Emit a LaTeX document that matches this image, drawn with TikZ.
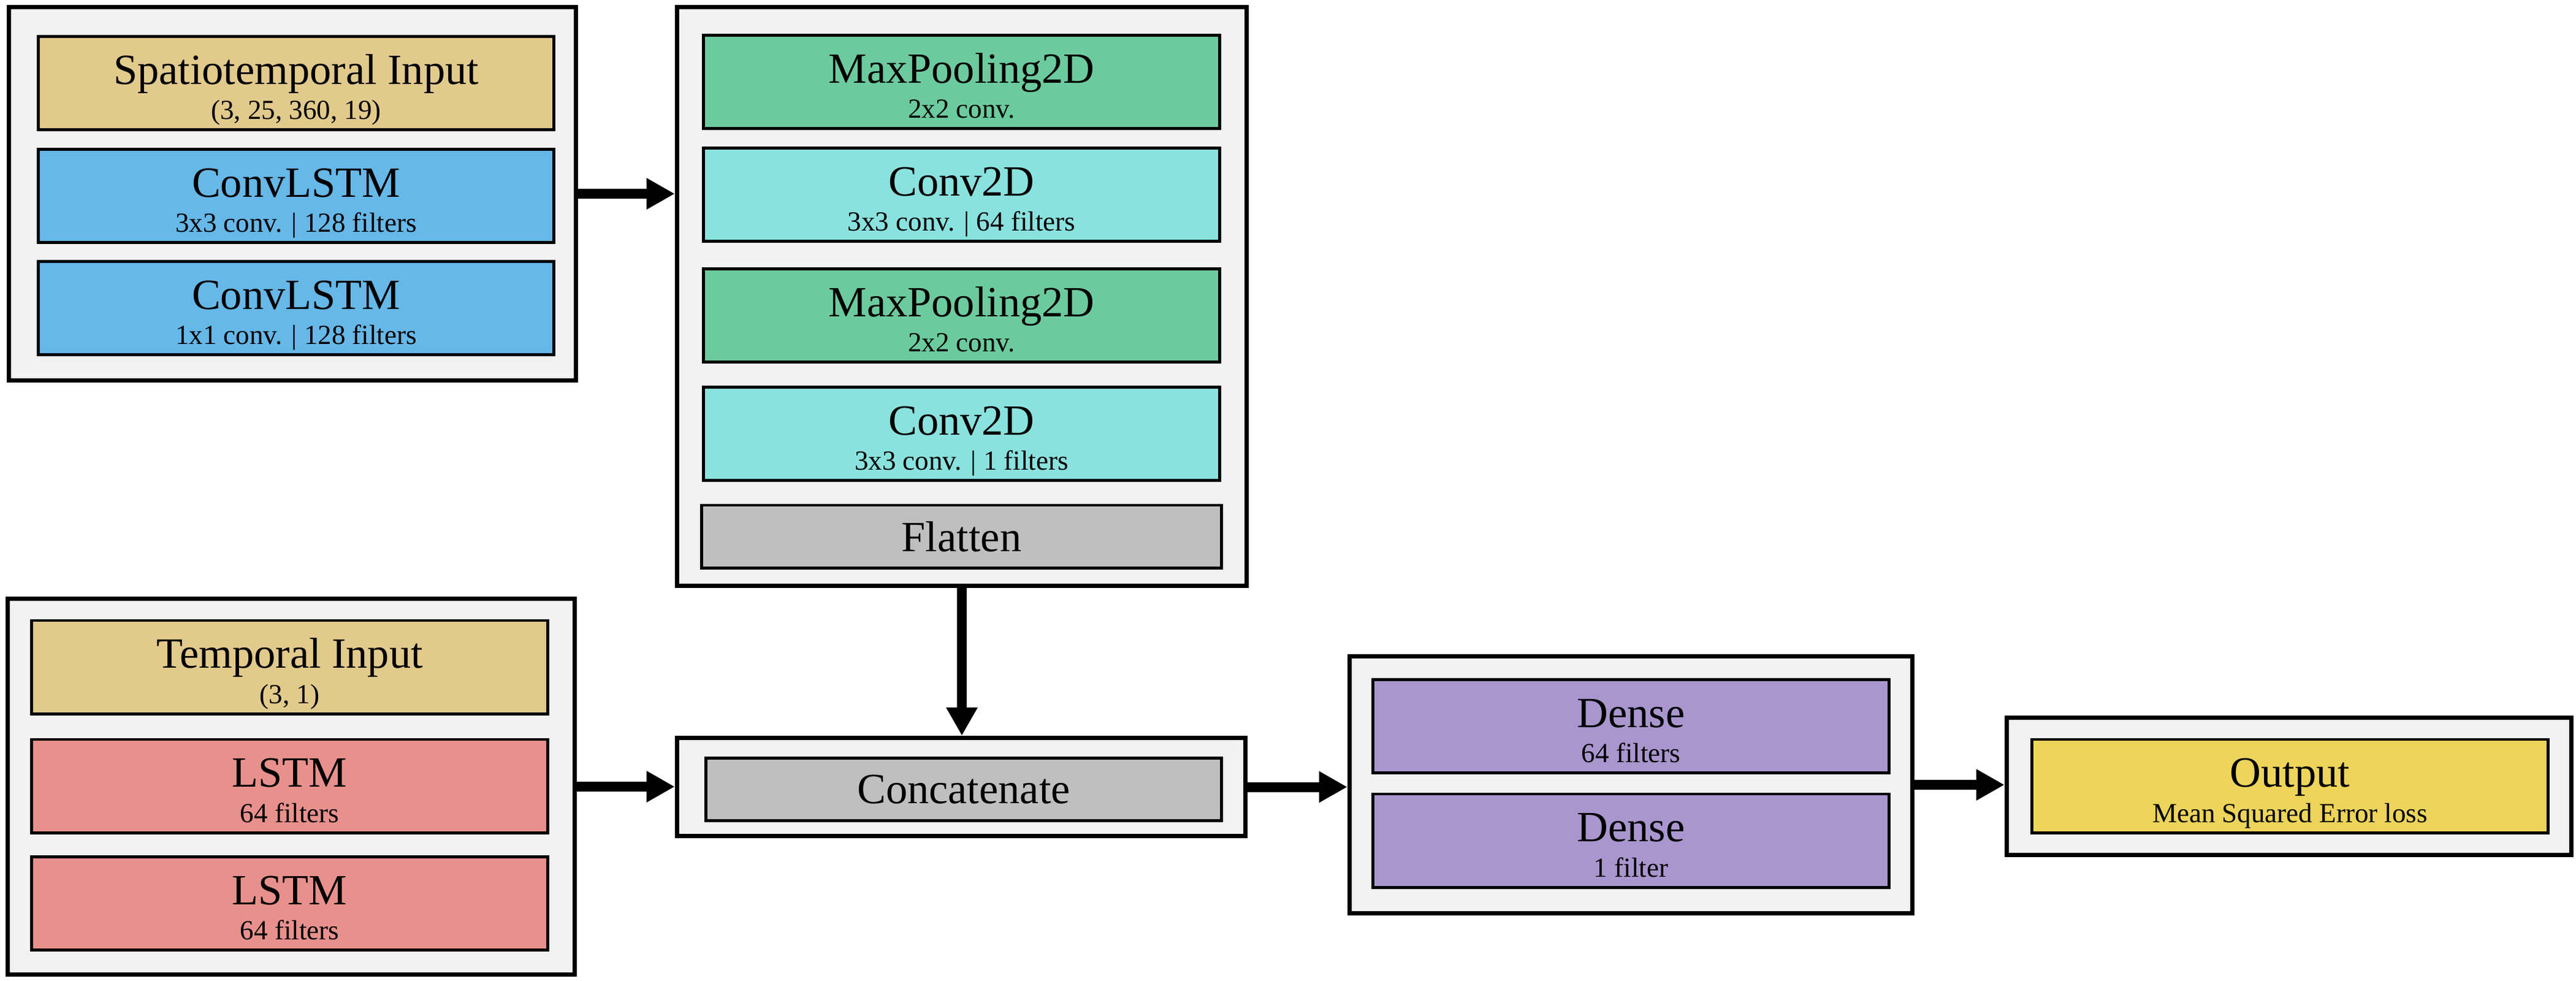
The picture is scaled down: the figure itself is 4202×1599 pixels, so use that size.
\documentclass[tikz,border=0pt]{standalone}
\usepackage{fontspec}
\setmainfont{Liberation Serif}
\usepackage{tikz}
\usetikzlibrary{arrows.meta}
\definecolor{mback}{rgb}{0.949, 0.949, 0.949}
\definecolor{mtan}{rgb}{0.886, 0.792, 0.549}
\definecolor{mblue}{rgb}{0.4, 0.722, 0.91}
\definecolor{mgreen}{rgb}{0.424, 0.796, 0.62}
\definecolor{mcyan}{rgb}{0.541, 0.886, 0.875}
\definecolor{mgray}{rgb}{0.75, 0.75, 0.75}
\definecolor{mred}{rgb}{0.91, 0.569, 0.549}
\definecolor{mpurple}{rgb}{0.663, 0.588, 0.808}
\definecolor{myellow}{rgb}{0.929, 0.831, 0.353}
\newcommand{\lyr}[2]{\rule{0pt}{20.3pt}{\fontsize{20}{16.4}\selectfont #1}\\\rule[-3pt]{0pt}{1pt}#2}
\tikzset{
  group/.style={draw, line width=2pt, fill=mback, inner sep=0pt},
  layer/.style={draw, line width=1.4pt, inner sep=0pt, minimum width=8.41cm, minimum height=1.52cm, align=center, font=\fontsize{12.8}{16.4}\selectfont},
  flatlayer/.style={layer, minimum height=1.02cm, font=\fontsize{20}{24}\selectfont},
  flow/.style={line width=4.55pt, -{Triangle[length=0.46cm, width=0.48cm]}},
}

\begin{document}
\begin{tikzpicture}[x=0.01cm, y=-0.01cm]
    \useasboundingbox (0, 0) rectangle (4202, 1599);

    % spatiotemporal branch
    \node [group, minimum width=9.25cm, minimum height=6.09cm] (spatial) at (477, 316) {};
    \node [layer, fill=mtan] (stin) at (483, 135.5) {\lyr{Spatiotemporal Input}{(3, 25, 360, 19)}};
    \node [layer, fill=mblue] (clstma) at (483, 319.5) {\lyr{ConvLSTM}{3x3 conv. | 128 filters}};
    \node [layer, fill=mblue] (clstmb) at (483, 502.5) {\lyr{ConvLSTM}{1x1 conv. | 128 filters}};

    \node [group, minimum width=9.29cm, minimum height=9.44cm] (convstack) at (1569, 483.5) {};
    \node [layer, fill=mgreen] (poola) at (1568.5, 133.5) {\lyr{MaxPooling2D}{2x2 conv.}};
    \node [layer, fill=mcyan] (conva) at (1568.5, 317.5) {\lyr{Conv2D}{3x3 conv. | 64 filters}};
    \node [layer, fill=mgreen] (poolb) at (1568.5, 514.5) {\lyr{MaxPooling2D}{2x2 conv.}};
    \node [layer, fill=mcyan] (convb) at (1568.5, 707.5) {\lyr{Conv2D}{3x3 conv. | 1 filters}};
    \node [flatlayer, fill=mgray, minimum width=8.48cm] (flat) at (1568.5, 875) {Flatten};

    % temporal branch
    \node [group, minimum width=9.25cm, minimum height=6.13cm] (temporal) at (475, 1283) {};
    \node [layer, fill=mtan] (tin) at (472.5, 1088) {\lyr{Temporal Input}{(3, 1)}};
    \node [layer, fill=mred] (lstma) at (472.5, 1282) {\lyr{LSTM}{64 filters}};
    \node [layer, fill=mred] (lstmb) at (472.5, 1473.5) {\lyr{LSTM}{64 filters}};

    % merge and head
    \node [group, minimum width=9.27cm, minimum height=1.6cm] (merge) at (1568, 1283.5) {};
    \node [flatlayer, fill=mgray] (cat) at (1572, 1287.5) {Concatenate};

    \node [group, minimum width=9.18cm, minimum height=4.19cm] (dense) at (2660.5, 1280) {};
    \node [layer, fill=mpurple] (densea) at (2660.5, 1184.5) {\lyr{Dense}{64 filters}};
    \node [layer, fill=mpurple] (denseb) at (2660.5, 1371) {\lyr{Dense}{1 filter}};

    \node [group, minimum width=9.21cm, minimum height=2.24cm] (output) at (3734, 1282.5) {};
    \node [layer, fill=myellow] (out) at (3735.5, 1282) {\lyr{Output}{Mean Squared Error loss}};

    \draw [flow] (spatial.east) -- (spatial.east -| convstack.west);
    \draw [flow] (convstack.south) -- (convstack.south |- merge.north);
    \draw [flow] (temporal.east) -- (temporal.east -| merge.west);
    \draw [flow] (merge.east) -- (merge.east -| dense.west);
    \draw [flow] (dense.east) -- (dense.east -| output.west);
\end{tikzpicture}
\end{document}
